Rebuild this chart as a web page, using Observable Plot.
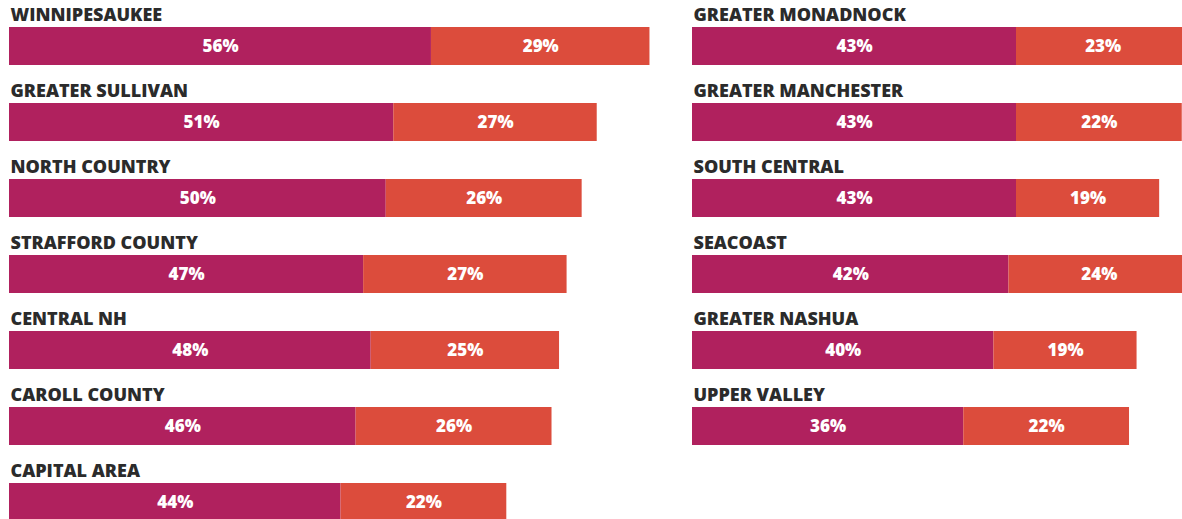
<!DOCTYPE html>
<html><head><meta charset="utf-8">
<script src="https://cdn.jsdelivr.net/npm/d3@7"></script>
<script src="https://cdn.jsdelivr.net/npm/@observablehq/plot@0.6"></script>
<style>
html,body{margin:0;padding:0;background:#fff;overflow:hidden}
#chart{width:1182px;height:519px;overflow:hidden}
#chart svg{max-width:none !important;height:541px !important;width:1342px !important;display:block}
</style></head><body><div id="chart"></div>
<script>
const leftRegions = ["WINNIPESAUKEE","GREATER SULLIVAN","NORTH COUNTRY","STRAFFORD COUNTY","CENTRAL NH","CAROLL COUNTY","CAPITAL AREA"];
const leftFirst = [56,51,50,47,48,46,44];
const leftSecond = [29,27,26,27,25,26,22];
const rightRegions = ["GREATER MONADNOCK","GREATER MANCHESTER","SOUTH CENTRAL","SEACOAST","GREATER NASHUA","UPPER VALLEY"];
const rightFirst = [43,43,43,42,40,36];
const rightSecond = [23,22,19,24,19,22];
const seriesNames = ["first","second"];
const seriesColors = ["#B0215E","#DC4C3C"];

const bars = [];
const labels = [];
function addColumn(col, names, a, b){
  names.forEach((n,i)=>{
    labels.push({col,row:i,name:n,base:0});
    bars.push({col,row:i,name:n,series:"first",value:a[i]});
    bars.push({col,row:i,name:n,series:"second",value:b[i]});
  });
}
addColumn("left", leftRegions, leftFirst, leftSecond);
addColumn("right", rightRegions, rightFirst, rightSecond);

const font = "'Open Sans', sans-serif";
const chart = Plot.plot({
  width: 1342, height: 541,
  marginLeft: 8, marginRight: 0.7, marginTop: 7, marginBottom: 1,
  style: {fontFamily: font, background: "#fff"},
  x: {domain: [0, 86], axis: null},
  y: {domain: d3.range(7), axis: null, paddingInner: 0.5, paddingOuter: 0.25, align: 0.5},
  fx: {domain: ["left","right"], axis: null, paddingInner: 0.0507, paddingOuter: 0},
  color: {domain: seriesNames, range: seriesColors},
  marks: [
    Plot.barX(bars, Plot.stackX({x: "value", y: "row", fx: "col", fill: "series", z: "series", order: seriesNames})),
    Plot.text(bars, Plot.stackX({x: "value", y: "row", fx: "col", z: "series", order: seriesNames,
      text: d => d.value + "%", fill: "#fff", fontWeight: 800, fontSize: 17, letterSpacing: 1})),
    Plot.text(labels, {x: "base", y: "row", fx: "col", text: "name", textAnchor: "start",
      dx: 1, dy: -31, fill: "#2b2b2b", fontWeight: 800, fontSize: 18, letterSpacing: 0.9})
  ]
});
document.getElementById("chart").appendChild(chart);
</script></body></html>
